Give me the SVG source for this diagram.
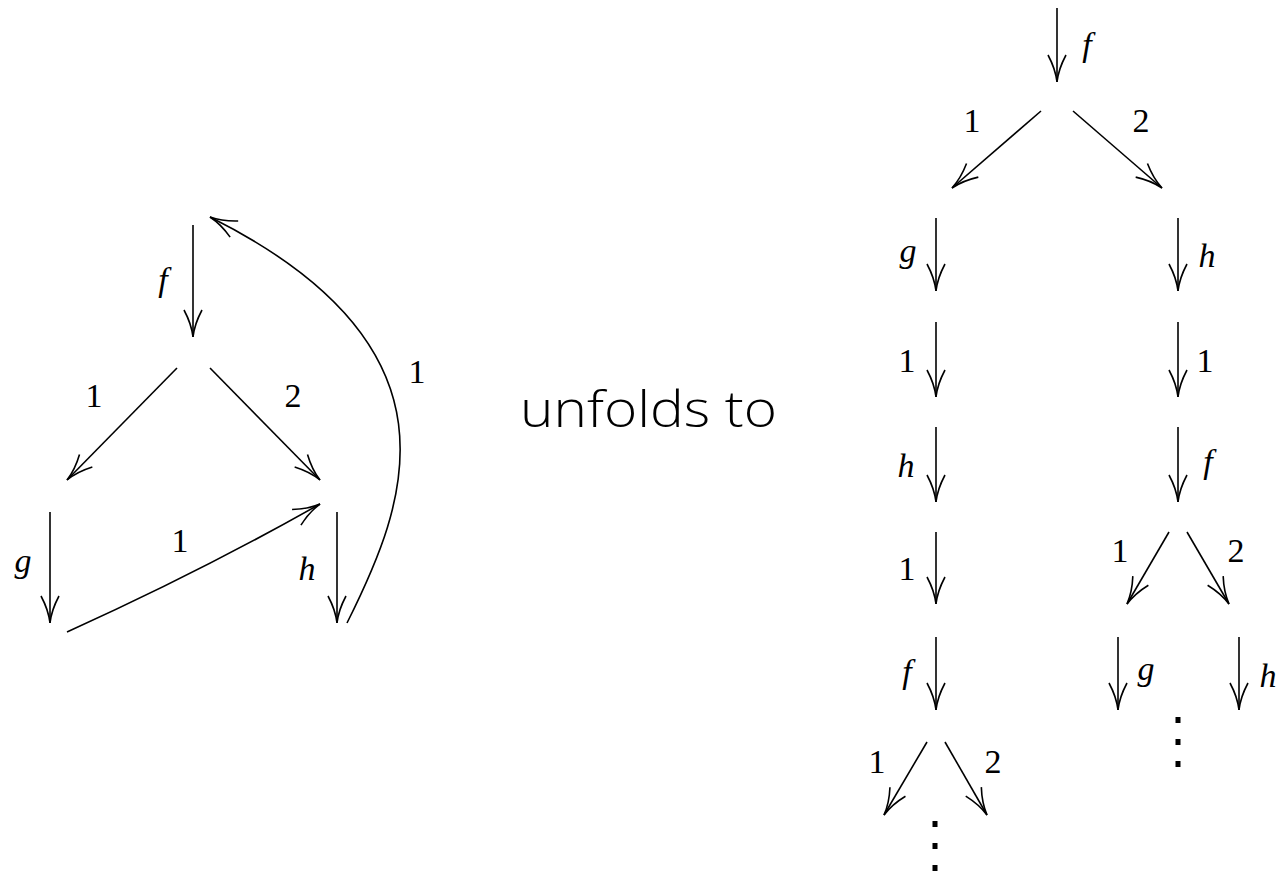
<svg xmlns="http://www.w3.org/2000/svg" width="1280" height="872" viewBox="0 0 1280 872">
<style>
.e{fill:none;stroke:#000;stroke-width:1.6;marker-end:url(#ah)}
.l{font-family:"Liberation Serif","DejaVu Serif",serif;font-size:34px;fill:#000;text-anchor:middle}
.i{font-style:italic}
.t{font-family:"Open Sans","DejaVu Sans",sans-serif;font-size:50px;font-weight:300;fill:#000}
.d{fill:#000}
</style>
<defs>
<marker id="ah" markerUnits="userSpaceOnUse" viewBox="-30 -12 32 24" refX="0" refY="0" markerWidth="32" markerHeight="24" orient="auto" overflow="visible">
<path d="M-27,-9 Q-13,-1.5 0,0 Q-13,1.5 -27,9" fill="none" stroke="#000" stroke-width="1.6"/>
</marker>
</defs>
<rect width="1280" height="872" fill="#fff"/>

<g id="graph">
<g id="connectors-left">
<line class="e" x1="193" y1="225" x2="193" y2="337"/>
<line class="e" x1="177" y1="368" x2="67" y2="480"/>
<line class="e" x1="210" y1="368" x2="320" y2="480"/>
<line class="e" x1="50" y1="512" x2="50" y2="623"/>
<line class="e" x1="337" y1="512" x2="337" y2="623"/>
<path class="e" d="M67,632 Q200,572 320,504"/>
<path class="e" d="M347,623 C407,503 470,347 210,217"/>
</g>
<g id="labels-left">
<text class="l i" x="163" y="291">f</text>
<text class="l" x="94" y="407">1</text>
<text class="l" x="293" y="407">2</text>
<text class="l i" x="23" y="572">g</text>
<text class="l i" x="307" y="580">h</text>
<text class="l" x="180" y="552">1</text>
<text class="l" x="417" y="383">1</text>
</g>
</g>

<g id="caption">
<text class="t" x="520" y="427" textLength="257" lengthAdjust="spacingAndGlyphs">unfolds to</text>
</g>

<g id="tree">
<g id="connectors-right">
<line class="e" x1="1057" y1="8" x2="1057" y2="82"/>
<line class="e" x1="1041" y1="111" x2="952" y2="188"/>
<line class="e" x1="1073" y1="111" x2="1162" y2="188"/>
<line class="e" x1="936" y1="218" x2="936" y2="291"/>
<line class="e" x1="1178" y1="218" x2="1178" y2="291"/>
<line class="e" x1="936" y1="322" x2="936" y2="397"/>
<line class="e" x1="1178" y1="322" x2="1178" y2="397"/>
<line class="e" x1="936" y1="427" x2="936" y2="502"/>
<line class="e" x1="1178" y1="427" x2="1178" y2="502"/>
<line class="e" x1="936" y1="532" x2="936" y2="604"/>
<line class="e" x1="1169" y1="532" x2="1127" y2="604"/>
<line class="e" x1="1187" y1="532" x2="1229" y2="604"/>
<line class="e" x1="936" y1="637" x2="936" y2="710"/>
<line class="e" x1="1118" y1="637" x2="1118" y2="710"/>
<line class="e" x1="1239" y1="637" x2="1239" y2="710"/>
<line class="e" x1="927" y1="742" x2="884" y2="815"/>
<line class="e" x1="945" y1="742" x2="987" y2="815"/>
</g>
<g id="labels-right">
<text class="l i" x="1087" y="56">f</text>
<text class="l" x="972" y="132">1</text>
<text class="l" x="1141" y="132">2</text>
<text class="l i" x="908" y="262">g</text>
<text class="l i" x="1207" y="267">h</text>
<text class="l" x="907" y="372">1</text>
<text class="l" x="1205" y="372">1</text>
<text class="l i" x="906" y="477">h</text>
<text class="l i" x="1208" y="473">f</text>
<text class="l" x="907" y="580">1</text>
<text class="l" x="1120" y="562">1</text>
<text class="l" x="1236" y="562">2</text>
<text class="l i" x="907" y="683">f</text>
<text class="l i" x="1146" y="680">g</text>
<text class="l i" x="1268" y="687">h</text>
<text class="l" x="877" y="773">1</text>
<text class="l" x="993" y="773">2</text>
</g>
<g id="dots">
<rect class="d" x="1175.5" y="717" width="5" height="6"/>
<rect class="d" x="1175.5" y="739" width="5" height="6"/>
<rect class="d" x="1175.5" y="761" width="5" height="6"/>
<rect class="d" x="932.5" y="821" width="5" height="6"/>
<rect class="d" x="932.5" y="843" width="5" height="6"/>
<rect class="d" x="932.5" y="865" width="5" height="6"/>
</g>
</g>
</svg>
